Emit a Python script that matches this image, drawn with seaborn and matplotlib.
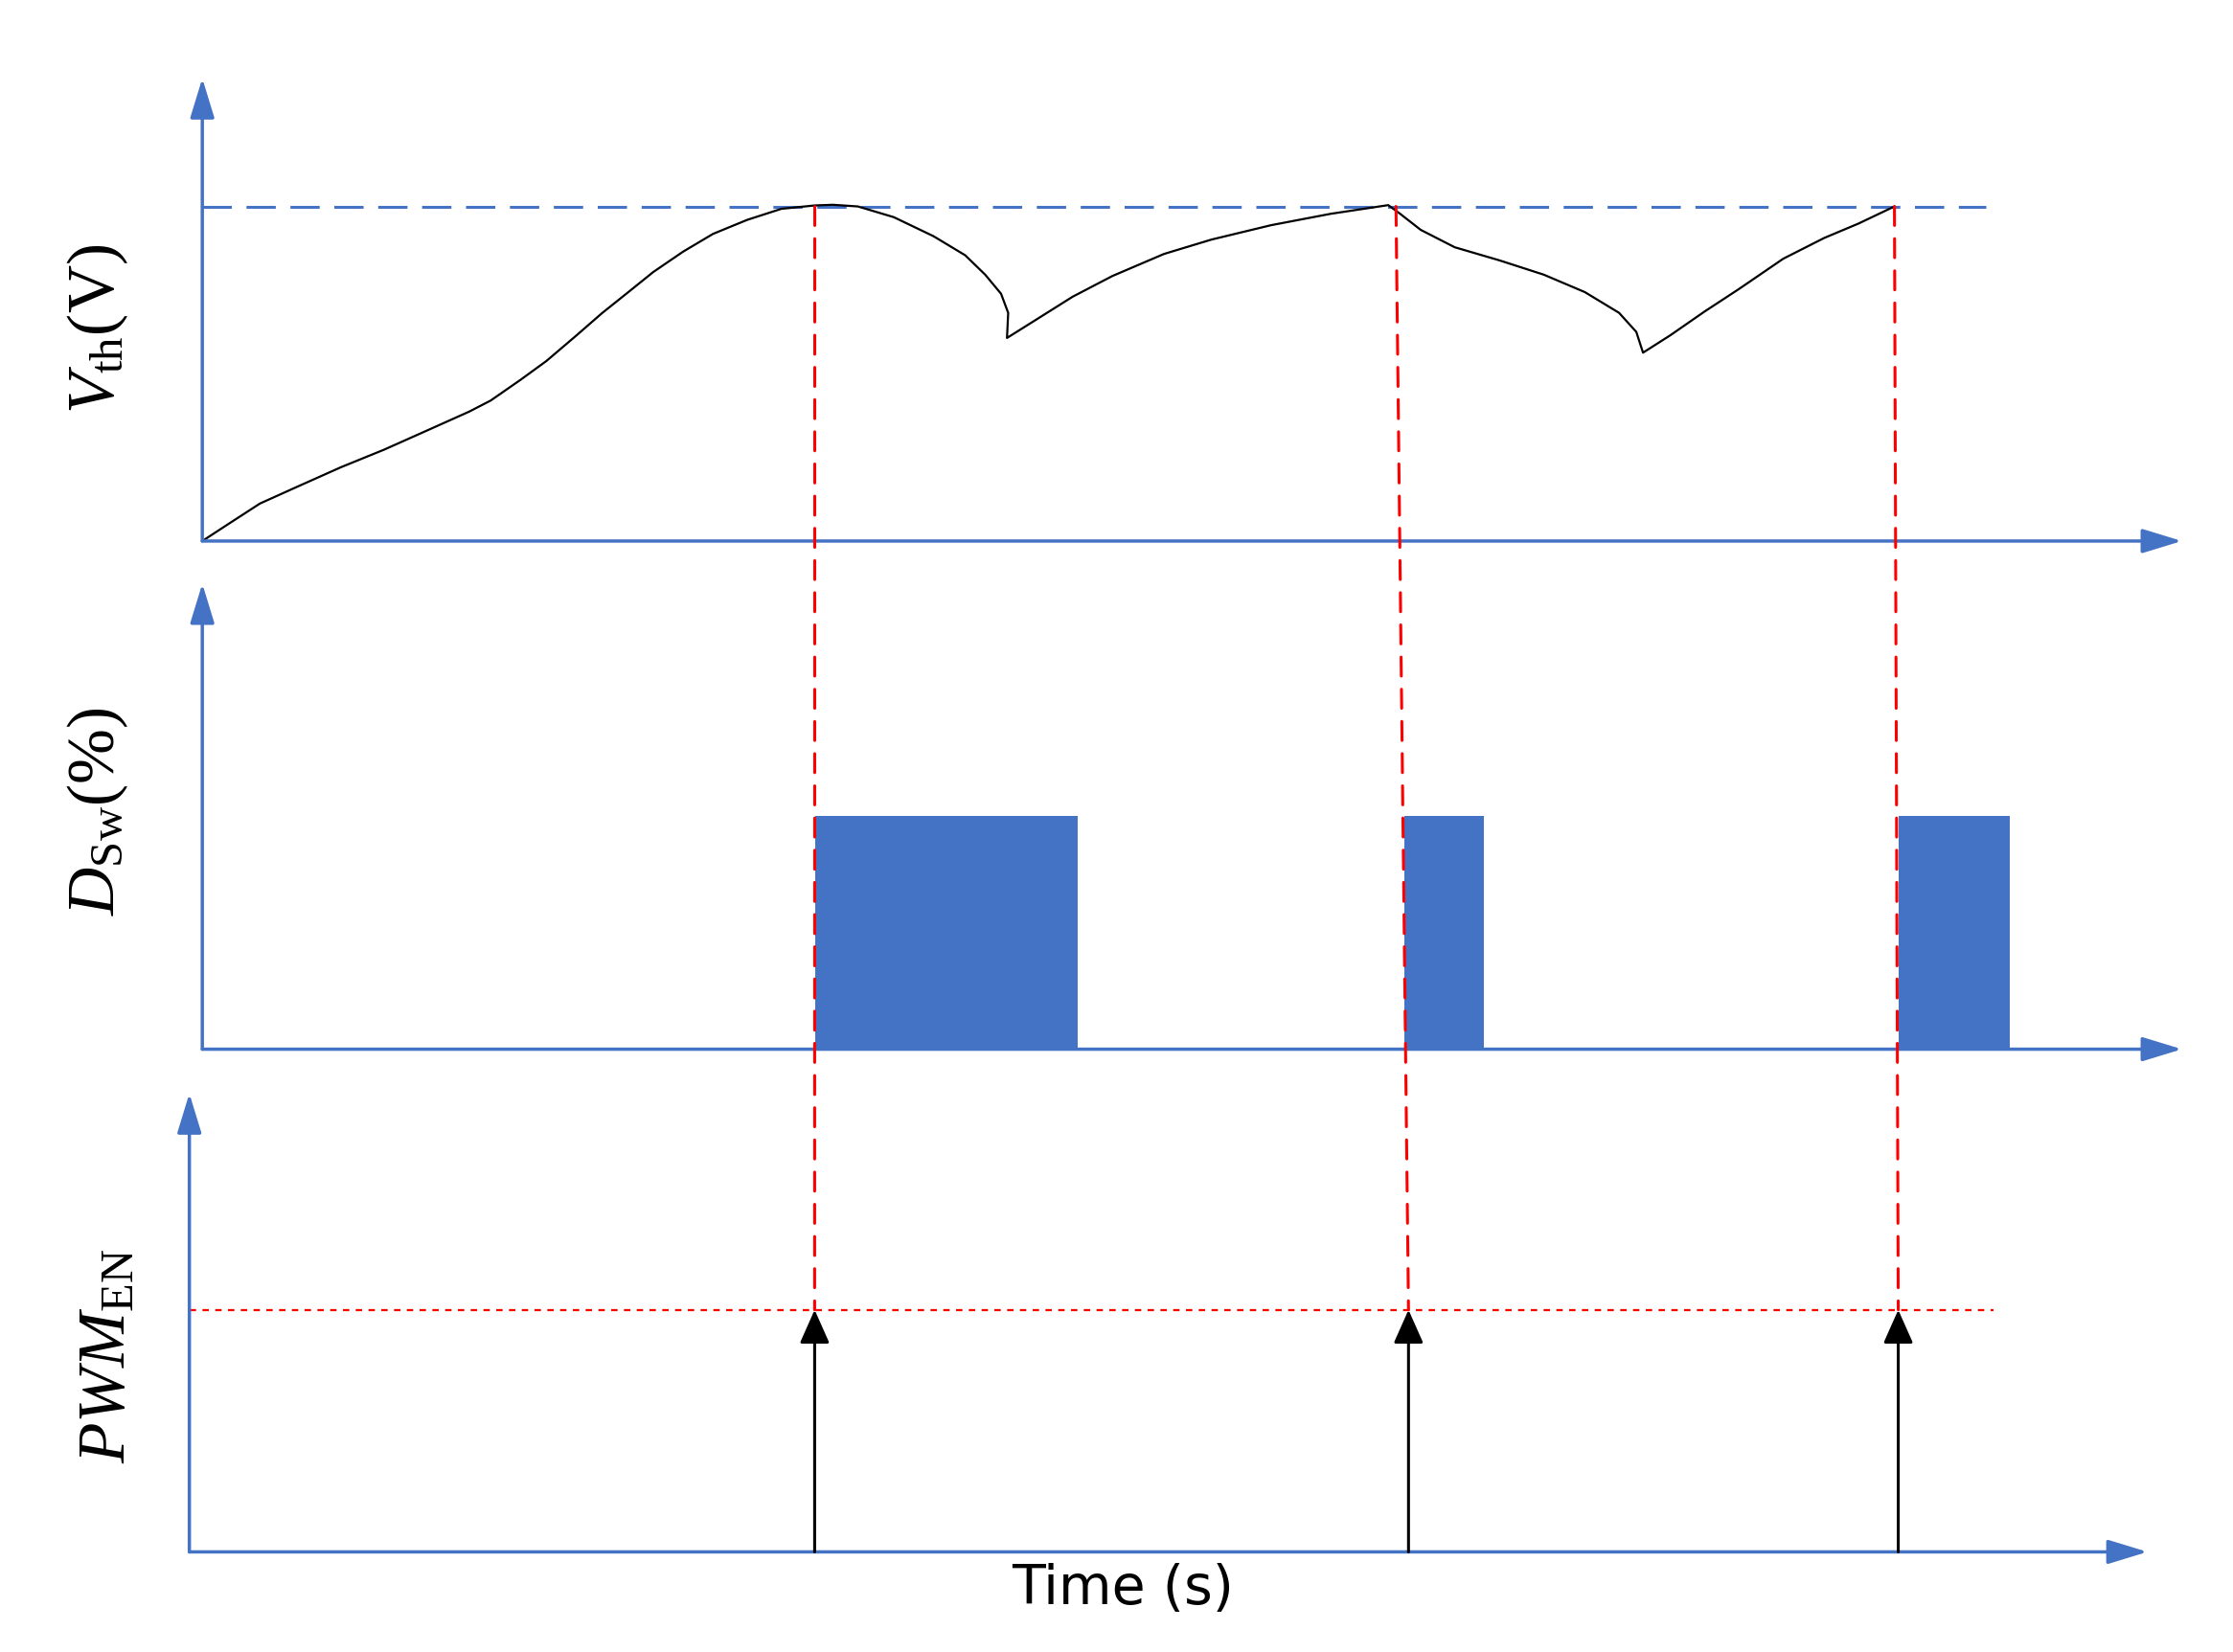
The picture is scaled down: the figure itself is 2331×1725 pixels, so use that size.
import matplotlib
matplotlib.use("Agg")
import matplotlib.pyplot as plt
from matplotlib.patches import ConnectionPatch
import seaborn as sns

# threshold voltage trace, normalised so the threshold level is 1.0
vth_t = [0.0, 0.119, 0.291, 0.486, 0.702, 0.918, 1.134, 1.349, 1.457, 1.608,
         1.738, 1.889, 2.019, 2.148, 2.278, 2.429, 2.580, 2.753, 2.926, 3.094,
         3.185, 3.312, 3.493, 3.694, 3.854, 3.955, 4.035, 4.071, 4.065,
         4.216, 4.396, 4.597, 4.858, 5.098, 5.399, 5.700, 5.991,
         6.051, 6.155, 6.327, 6.552, 6.777, 6.984, 7.157, 7.244, 7.278,
         7.416, 7.589, 7.762, 7.987, 8.194, 8.367, 8.548]
vth_v = [0.0, 0.046, 0.112, 0.164, 0.221, 0.273, 0.330, 0.387, 0.420, 0.482,
         0.538, 0.614, 0.681, 0.742, 0.804, 0.865, 0.918, 0.960, 0.993, 1.003,
         1.005, 1.000, 0.968, 0.911, 0.854, 0.796, 0.739, 0.682, 0.607,
         0.663, 0.730, 0.792, 0.858, 0.901, 0.944, 0.978, 1.004,
         0.978, 0.930, 0.878, 0.839, 0.796, 0.744, 0.682, 0.625, 0.563,
         0.615, 0.686, 0.753, 0.844, 0.906, 0.949, 1.000]

threshold = 1.0
threshold_end = 9.01

# trigger instants: top of the red line (Vth panel) and bottom (PWM panel)
trig_top = [3.094, 6.03, 8.548]
trig_bot = [3.094, 6.094, 8.568]

# switch duty cycle bursts
burst_start = [3.094, 6.072, 8.568]
burst_end = [4.424, 6.475, 9.129]
burst_duty = [50, 50, 50]

pwm_level = 1.0
pwm_line_end = 9.05

blue = "#4472C4"
red = "#FF0000"

sns.set_theme(style="white")
plt.rcParams["mathtext.fontset"] = "custom"
plt.rcParams["mathtext.rm"] = "Liberation Serif"
plt.rcParams["mathtext.it"] = "Liberation Serif:italic"
plt.rcParams["font.family"] = ["DejaVu Sans"]
plt.rcParams["text.color"] = "black"

fig = plt.figure(figsize=(23.31, 17.25), dpi=100)
ax1 = fig.add_axes([0.0906, 0.6725, 0.8865, 0.2801])
ax2 = fig.add_axes([0.0906, 0.3649, 0.8865, 0.2818])
ax3 = fig.add_axes([0.0848, 0.0606, 0.8769, 0.2775])

ax1.set_xlim(0, 10)
ax1.set_ylim(0, 1.383)
ax2.set_xlim(0, 10)
ax2.set_ylim(0, 100)
ax3.set_xlim(-0.0647, 9.827)
ax3.set_ylim(0, 1.894)

axis_arrow = dict(arrowstyle="-|>,head_length=0.85,head_width=0.26",
                  color=blue, lw=2.5, shrinkA=0, shrinkB=0, mutation_scale=30)
for ax in (ax1, ax2, ax3):
    ax.axis("off")
    ax.annotate("", xy=(1, 0), xytext=(0, 0), xycoords="axes fraction",
                arrowprops=axis_arrow)
    ax.annotate("", xy=(0, 1), xytext=(0, 0), xycoords="axes fraction",
                arrowprops=axis_arrow)

# Vth panel
ax1.hlines(threshold, 0, threshold_end, color=blue, lw=2.2,
           linestyle=(0, (10, 5)))
sns.lineplot(x=vth_t, y=vth_v, sort=False, estimator=None, color="black",
             lw=1.6, ax=ax1)

# duty cycle panel
widths = [e - s for s, e in zip(burst_start, burst_end)]
ax2.bar(burst_start, burst_duty, width=widths, align="edge", color=blue,
        edgecolor="none")

# PWM enable panel
ax3.hlines(pwm_level, ax3.get_xlim()[0], pwm_line_end, color=red, lw=1.6,
           linestyle=(0, (3, 3)))
for t in trig_bot:
    ax3.annotate("", xy=(t, pwm_level), xytext=(t, 0),
                 arrowprops=dict(arrowstyle="-|>,head_length=0.72,head_width=0.32",
                                 color="black", lw=2.2, shrinkA=0, shrinkB=0,
                                 mutation_scale=30))

# red trigger lines running through all panels
for tt, tb in zip(trig_top, trig_bot):
    con = ConnectionPatch(xyA=(tt, threshold), coordsA=ax1.transData,
                          xyB=(tb, pwm_level), coordsB=ax3.transData,
                          color=red, lw=2.2, linestyle=(0, (6.5, 4.5)))
    con.set_zorder(5)
    fig.add_artist(con)

label_kw = dict(rotation=90, ha="center", va="center", fontsize=50,
                family="Liberation Serif", color="black")
fig.text(0.0440, 0.8009, r"$V_{\mathrm{th}}$(V)", **label_kw)
fig.text(0.0440, 0.509, r"$D_{\mathrm{Sw}}$(%)", **label_kw)
fig.text(0.0487, 0.179, r"$PWM_{\mathrm{EN}}$", **label_kw)

fig.text(0.503, 0.0377, "Time (s)", ha="center", va="center", fontsize=41,
         color="black")

plt.savefig("out.png", dpi=100)
